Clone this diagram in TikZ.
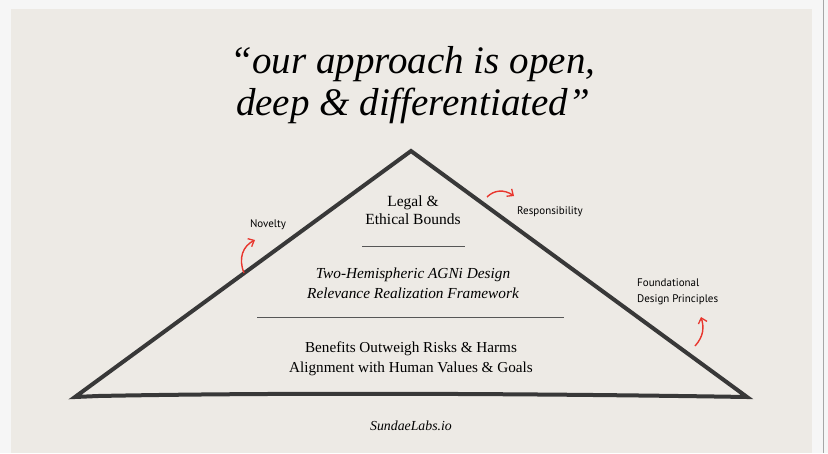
\documentclass[tikz,border=0pt]{standalone}
\usepackage{fontspec}
\setmainfont{Liberation Serif}
\newfontfamily\labelfont{PT Sans}
\usetikzlibrary{arrows.meta}
\definecolor{paper}{HTML}{EDEAE5}
\definecolor{outer}{HTML}{F6F6F6}
\definecolor{ink}{HTML}{383838}
\definecolor{redarrow}{HTML}{E8362D}
\tikzset{
  bodytext/.style={font=\fontsize{15.5}{18}\selectfont, align=center, text=black, inner sep=0pt},
  sidelabel/.style={font=\labelfont\fontsize{11}{16}\selectfont, align=left, text=black, inner sep=0pt},
  divider/.style={draw=ink!85, line width=0.9pt},
  redcurve/.style={draw=redarrow, line width=1.4pt, -{Straight Barb[length=5pt,width=9pt,line width=1.3pt]}},
}
\begin{document}
\begin{tikzpicture}[x=1pt,y=-1pt]
\useasboundingbox (0,0) rectangle (828,453);
\fill[outer] (0,0) rectangle (828,453);
\fill[paper] (11,9) rectangle (812,453);
\draw[gray!70, line width=0.8pt] (823,0) -- (823,453);
% title
\node[font=\itshape\fontsize{39}{42}\selectfont, align=center, inner sep=0pt] (title) at (413,85)
  {“our approach is open,\\ deep \& differentiated”};
% triangle
\coordinate (apex) at (411,151);
\coordinate (bl) at (75,397);
\coordinate (br) at (747,397);
\draw[ink, line width=4pt, line join=miter] (apex) -- (br) .. controls (560,394) and (300,392) .. (98,396) -- (bl) -- cycle;
% texts
\node[bodytext] (legal) at (413,210) {Legal \&\\ Ethical Bounds};
\coordinate (d1l) at (362,246); \coordinate (d1r) at (465,246);
\draw[divider] (d1l) -- (d1r);
\node[bodytext, font=\itshape\fontsize{15.3}{20}\selectfont] (agni) at (413,283) {Two-Hemispheric AGNi Design\\ Relevance Realization Framework};
\coordinate (d2l) at (257,317); \coordinate (d2r) at (564,317);
\draw[divider] (d2l) -- (d2r);
\node[bodytext, font=\fontsize{15.2}{19.5}\selectfont] (benefits) at (411,359) {Benefits Outweigh Risks \& Harms\\ Alignment with Human Values \& Goals};
% side labels
\node[sidelabel] (novelty) at (268,225) {Novelty};
\node[sidelabel] (resp) at (550,212) {Responsibility};
\node[sidelabel, anchor=west] (found) at (637,292) {Foundational\\ Design Principles};
% red arrows
\coordinate (n0) at (244,273); \coordinate (n1) at (255,240);
\draw[redcurve] (n0) .. controls (238,258) and (243,246) .. (n1);
\coordinate (r0) at (487,197); \coordinate (r1) at (514,196);
\draw[redcurve] (r0) .. controls (494,190) and (504,189) .. (r1);
\coordinate (f0) at (695,346); \coordinate (f1) at (701,317);
\draw[redcurve] (f0) .. controls (704,336) and (704,327) .. (f1);
% footer
\node[font=\itshape\fontsize{13.8}{15}\selectfont, inner sep=0pt] (footer) at (411,426) {SundaeLabs.io};
\end{tikzpicture}
\end{document}
